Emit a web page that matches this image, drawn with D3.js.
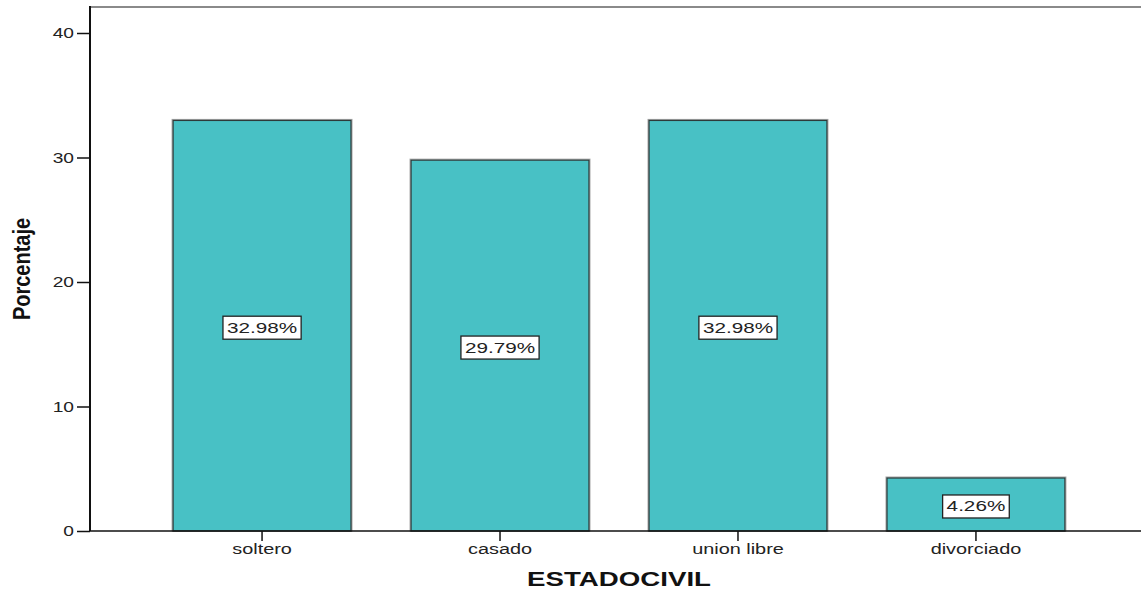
<!DOCTYPE html>
<html>
<head>
<meta charset="utf-8">
<script src="https://cdn.jsdelivr.net/npm/d3@7"></script>
<style>
  html, body { margin: 0; padding: 0; background: #fff; }
  svg { display: block; font-family: "Liberation Sans", Arial, sans-serif; }
</style>
</head>
<body>
<svg id="chart" width="1141" height="592"></svg>
<script>
// Estado civil: percentage per category
const categories = ["soltero", "casado", "union libre", "divorciado"];
const percentages = [32.98, 29.79, 32.98, 4.26];
const yTicks = [0, 10, 20, 30, 40];

// wide lettering: horizontal stretch for words, tick numbers and value labels
const wordStretch = 1.42;
const numStretch = 1.28;
const labelStretch = 1.38;

const svg = d3.select("#chart");
const plot = { left: 90, right: 1148, top: 7, bottom: 531 };

const x = d3.scaleBand()
  .domain(categories)
  .range([plot.left, plot.right])
  .paddingInner(0.252)
  .paddingOuter(0.349);

const y = d3.scaleLinear()
  .domain([0, 40])
  .range([plot.bottom, 33]);

// top frame line
svg.append("line")
  .attr("x1", plot.left).attr("x2", 1141)
  .attr("y1", plot.top).attr("y2", plot.top)
  .attr("stroke", "#8a8a8a").attr("stroke-width", 2);

// bars with a light shadow edge
const bars = svg.append("g");
bars.selectAll("rect.shadow")
  .data(categories)
  .join("rect")
  .attr("class", "shadow")
  .attr("x", d => x(d) - 1)
  .attr("y", (d, i) => y(percentages[i]) - 1)
  .attr("width", x.bandwidth() + 2)
  .attr("height", (d, i) => y(0) - y(percentages[i]) + 1)
  .attr("fill", "none")
  .attr("stroke", "#aaaaaa")
  .attr("stroke-width", 1);

bars.selectAll("rect.bar")
  .data(categories)
  .join("rect")
  .attr("class", "bar")
  .attr("x", d => x(d))
  .attr("y", (d, i) => y(percentages[i]))
  .attr("width", x.bandwidth())
  .attr("height", (d, i) => y(0) - y(percentages[i]))
  .attr("fill", "#48c1c5")
  .attr("stroke", "#2e3a3a")
  .attr("stroke-width", 1.3);

// value labels in boxes
const labels = svg.append("g");
categories.forEach((c, i) => {
  const cx = x(c) + x.bandwidth() / 2;
  const cy = (y(percentages[i]) + y(0)) / 2 + 2;
  const g = labels.append("g");
  const t = g.append("text")
    .attr("transform", `translate(${cx},${cy}) scale(${labelStretch},1)`)
    .attr("text-anchor", "middle")
    .attr("dominant-baseline", "central")
    .attr("font-size", 15)
    .attr("fill", "#222")
    .text(percentages[i].toFixed(2) + "%");
  const w = t.node().getBBox().width * labelStretch;
  g.insert("rect", "text")
    .attr("x", cx - w / 2 - 4).attr("y", cy - 11.5)
    .attr("width", w + 8).attr("height", 23)
    .attr("fill", "#fff")
    .attr("stroke", "#222")
    .attr("stroke-width", 1.3);
});

// y axis
const yAxis = svg.append("g")
  .attr("transform", `translate(${plot.left},0)`)
  .call(d3.axisLeft(y).tickValues(yTicks).tickSize(13).tickPadding(4));
yAxis.select(".domain").remove();
yAxis.append("line")
  .attr("x1", 0).attr("x2", 0)
  .attr("y1", plot.top - 1).attr("y2", plot.bottom)
  .attr("stroke", "#111").attr("stroke-width", 2);
yAxis.selectAll(".tick line").attr("stroke", "#111").attr("stroke-width", 1.5);
yAxis.selectAll(".tick text")
  .attr("x", 0)
  .attr("transform", `translate(-16,0) scale(${numStretch},1)`)
  .attr("font-size", 15)
  .attr("font-family", "'Liberation Sans', Arial, sans-serif")
  .attr("fill", "#222");

// x axis
const xAxis = svg.append("g")
  .attr("transform", `translate(0,${plot.bottom})`)
  .call(d3.axisBottom(x).tickSize(10).tickPadding(3));
xAxis.select(".domain").remove();
xAxis.append("line")
  .attr("x1", plot.left).attr("x2", 1141)
  .attr("y1", 0).attr("y2", 0)
  .attr("stroke", "#111").attr("stroke-width", 1.5);
xAxis.selectAll(".tick line").attr("stroke", "#111").attr("stroke-width", 1.5);
xAxis.selectAll(".tick text")
  .attr("transform", `scale(${wordStretch},1)`)
  .attr("font-size", 14)
  .attr("font-family", "'Liberation Sans', Arial, sans-serif")
  .attr("fill", "#222");

// axis titles
svg.append("text")
  .attr("transform", `translate(${(plot.left + plot.right) / 2},586) scale(${wordStretch},1)`)
  .attr("text-anchor", "middle")
  .attr("font-size", 19.5)
  .attr("font-weight", "bold")
  .attr("fill", "#111")
  .text("ESTADOCIVIL");

svg.append("text")
  .attr("transform", `translate(30,${(plot.top + plot.bottom) / 2}) scale(1.2,1) rotate(-90)`)
  .attr("text-anchor", "middle")
  .attr("font-size", 20)
  .attr("font-weight", "bold")
  .attr("fill", "#111")
  .text("Porcentaje");
</script>
</body>
</html>
